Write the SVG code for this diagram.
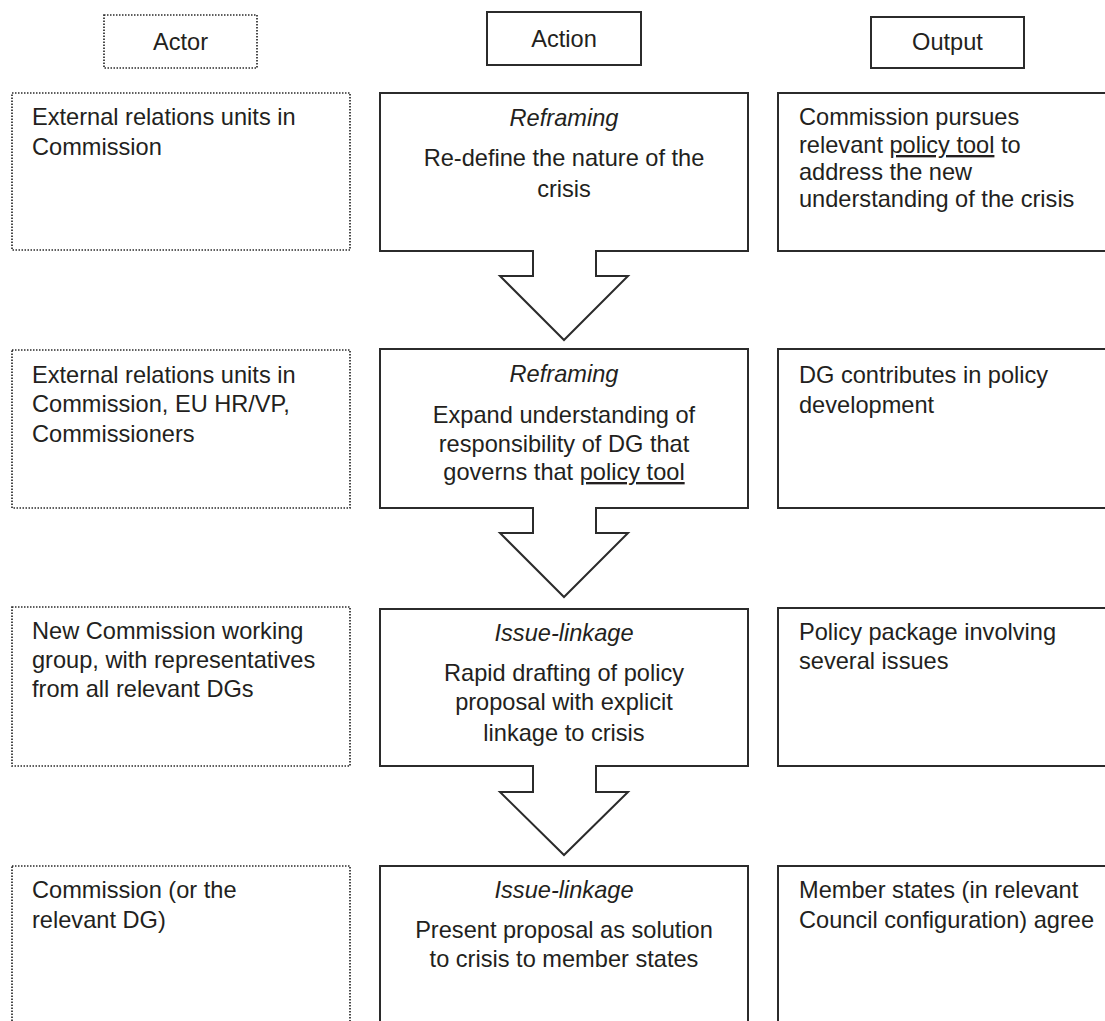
<svg xmlns="http://www.w3.org/2000/svg" width="1105" height="1021" viewBox="0 0 1105 1021">
<style>
text{font-family:"Liberation Sans",Arial,sans-serif;font-size:23.6px;fill:#231f20}
.c{text-anchor:middle}
.i{font-style:italic}
.u{text-decoration:underline}
.dot{fill:none;stroke:#2b2b2b;stroke-width:1.7;stroke-dasharray:1.5 1.5}
.sol{fill:#fff;stroke:#2b2b2b;stroke-width:2}
.arr{fill:#fff;stroke:#2b2b2b;stroke-width:2;stroke-linejoin:miter}
</style>
<rect width="1105" height="1021" fill="#fff"/>
<g id="hdr-actor"><rect class="dot" x="104" y="15" width="153" height="53"/><text class="c" x="180.5" y="50">Actor</text></g>
<g id="hdr-action"><rect class="sol" x="487" y="12" width="154" height="53"/><text class="c" x="564" y="47">Action</text></g>
<g id="hdr-output"><rect class="sol" x="871" y="17" width="153" height="51"/><text class="c" x="947.5" y="50">Output</text></g>

<g id="actor1"><rect class="dot" x="12" y="93" width="338" height="157"/><text x="32" y="125">External relations units in</text><text x="32" y="155">Commission</text></g>
<g id="actor2"><rect class="dot" x="12" y="350" width="338" height="158"/><text x="32" y="383">External relations units in</text><text x="32" y="412">Commission, EU HR/VP,</text><text x="32" y="442">Commissioners</text></g>
<g id="actor3"><rect class="dot" x="12" y="607" width="338" height="159"/><text x="32" y="639">New Commission working</text><text x="32" y="668">group, with representatives</text><text x="32" y="697">from all relevant DGs</text></g>
<g id="actor4"><rect class="dot" x="12" y="866" width="338" height="170"/><text x="32" y="898">Commission (or the</text><text x="32" y="928">relevant DG)</text></g>

<g id="action1"><rect class="sol" x="380" y="93" width="368" height="158"/><text class="c i" x="564" y="126">Reframing</text><text class="c" x="564" y="166">Re-define the nature of the</text><text class="c" x="564" y="197">crisis</text></g>
<g id="action2"><rect class="sol" x="380" y="349" width="368" height="159"/><text class="c i" x="564" y="382">Reframing</text><text class="c" x="564" y="423">Expand understanding of</text><text class="c" x="564" y="452">responsibility of DG that</text><text class="c" x="564" y="480">governs that <tspan class="u">policy tool</tspan></text></g>
<g id="action3"><rect class="sol" x="380" y="609" width="368" height="157"/><text class="c i" x="564" y="641">Issue-linkage</text><text class="c" x="564" y="681">Rapid drafting of policy</text><text class="c" x="564" y="710">proposal with explicit</text><text class="c" x="564" y="741">linkage to crisis</text></g>
<g id="action4"><rect class="sol" x="380" y="866" width="368" height="170"/><text class="c i" x="564" y="898">Issue-linkage</text><text class="c" x="564" y="938">Present proposal as solution</text><text class="c" x="564" y="967">to crisis to member states</text></g>

<g id="output1"><rect class="sol" x="778" y="93" width="340" height="158"/><text x="799" y="125">Commission pursues</text><text x="799" y="153">relevant <tspan class="u">policy tool</tspan> to</text><text x="799" y="180">address the new</text><text x="799" y="207">understanding of the crisis</text></g>
<g id="output2"><rect class="sol" x="778" y="349" width="340" height="159"/><text x="799" y="383">DG contributes in policy</text><text x="799" y="413">development</text></g>
<g id="output3"><rect class="sol" x="778" y="608" width="340" height="158"/><text x="799" y="640">Policy package involving</text><text x="799" y="669">several issues</text></g>
<g id="output4"><rect class="sol" x="778" y="866" width="340" height="170"/><text x="799" y="898">Member states (in relevant</text><text x="799" y="928">Council configuration) agree</text></g>

<g id="connectors">
<g><rect x="534" y="248" width="61" height="6" fill="#fff"/><path class="arr" d="M533,251 V276 H500 L564,340 L628,276 H596 V251"/></g>
<g><rect x="534" y="505" width="61" height="6" fill="#fff"/><path class="arr" d="M533,508 V533 H500 L564,597 L628,533 H596 V508"/></g>
<g><rect x="534" y="763" width="61" height="6" fill="#fff"/><path class="arr" d="M533,766 V792 H500 L564,855 L628,792 H596 V766"/></g>
</g>
</svg>
